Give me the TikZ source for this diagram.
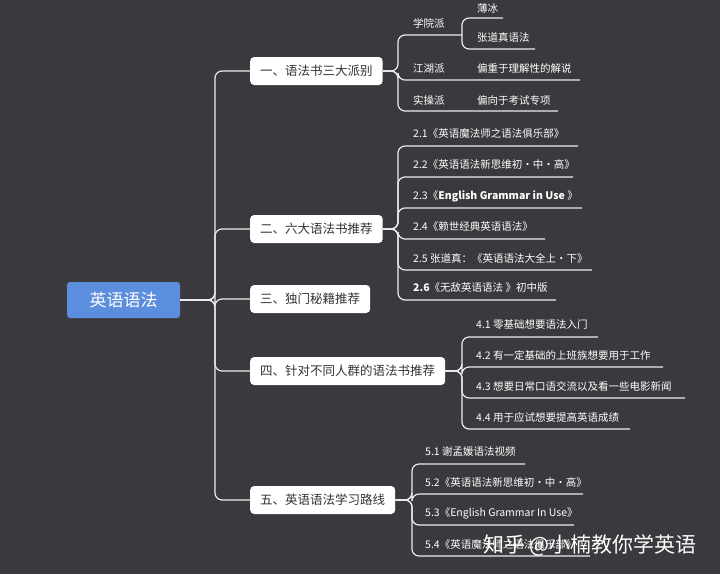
\documentclass[tikz,border=0pt]{standalone}
\usepackage{fontspec}
\setmainfont{Noto Sans CJK SC}
\begin{document}
\begin{tikzpicture}[x=1pt,y=-1pt,
  ln/.style={draw=white!92!black,line width=1.2pt,rounded corners=7pt},
  lvl/.style={fill=white,rounded corners=4pt,text=black!80,font=\fontsize{12.5}{14}\selectfont,minimum height=28pt,inner xsep=10pt,anchor=west},
  lf/.style={text=white,font=\fontsize{10.5}{12}\selectfont,anchor=west,inner sep=0pt}]
\fill[fill={rgb,255:red,58;green,58;blue,62}] (0,0) rectangle (720,574);
\useasboundingbox (0,0) rectangle (720,574);
\node[fill={rgb,255:red,92;green,142;blue,222},rounded corners=3pt,minimum width=113pt,minimum height=36pt,text=white,font=\fontsize{17}{20}\selectfont] (root) at (123.5,300) {英语语法};
\node[lvl] (n1) at (250,71) {一、语法书三大派别};
\node[lvl] (n2) at (250,229) {二、六大语法书推荐};
\node[lvl] (n3) at (250,299) {三、独门秘籍推荐};
\node[lvl] (n4) at (250,371) {四、针对不同人群的语法书推荐};
\node[lvl] (n5) at (250,500) {五、英语语法学习路线};
\foreach \n in {n1,n2,n3,n4,n5}{\draw[ln] (root.east) -- (215,300) |- (\n.west);}
% branch 1
\node[lf] (a1) at (413,23) {学院派};
\coordinate (a1e) at (462,35);
\draw[ln] (n1.east) -- (398,71) |- (a1e);
\node[lf] (a11) at (477,8) {薄冰};
\node[lf] (a12) at (477,38) {张道真语法};
\coordinate (a11e) at (503,18); \coordinate (a12e) at (535,49);
\draw[ln] (a1e) |- (a11e); \draw[ln] (a1e) |- (a12e);
\node[lf] (a2) at (413,69) {江湖派};
\node[lf] (a2b) at (477,69) {偏重于理解性的解说};
\coordinate (a2e) at (580,80);
\draw[ln] (n1.east) -- (398,71) |- (a2e);
\node[lf] (a3) at (413,100) {实操派};
\node[lf] (a3b) at (477,100) {偏向于考试专项};
\coordinate (a3e) at (558,111);
\draw[ln] (n1.east) -- (398,71) |- (a3e);
% branch 2
\foreach \y/\e/\t in {146/578/{2.1《英语魔法师之语法俱乐部》},177/573/{2.2《英语语法新思维初·中·高》},208/582/{2.3《\textbf{English Grammar in Use} 》},239/545/{2.4《赖世经典英语语法》},270/592/{2.5 张道真：《英语语法大全上·下》},300/556/{\textbf{2.6}《无敌英语语法 》初中版}}{
  \node[lf] (b\y) at (413,\y-12) {\t};
  \coordinate (be\y) at (\e,\y);
  \draw[ln] (n2.east) -- (398,229) |- (be\y);}
% branch 4
\foreach \y/\e/\t in {337/598/{4.1 零基础想要语法入门},367/663/{4.2 有一定基础的上班族想要用于工作},398/685/{4.3 想要日常口语交流以及看一些电影新闻},429/630/{4.4 用于应试想要提高英语成绩}}{
  \node[lf] (d\y) at (476,\y-12) {\t};
  \coordinate (de\y) at (\e,\y);
  \draw[ln] (n4.east) -- (462,371) |- (de\y);}
% branch 5
\foreach \y/\e/\t in {464/525/{5.1 谢孟媛语法视频},494/583/{5.2《英语语法新思维初·中·高》},525/574/{5.3《English Grammar In Use》},556/590/{5.4《英语魔法师之语法俱乐部》}}{
  \node[lf] (f\y) at (425,\y-12) {\t};
  \coordinate (fe\y) at (\e,\y);
  \draw[ln] (n5.east) -- (412,500) |- (fe\y);}
\node[text=white,font=\fontsize{21}{24}\selectfont] (wm) at (590,545) {知乎 @小楠教你学英语};
\end{tikzpicture}
\end{document}
